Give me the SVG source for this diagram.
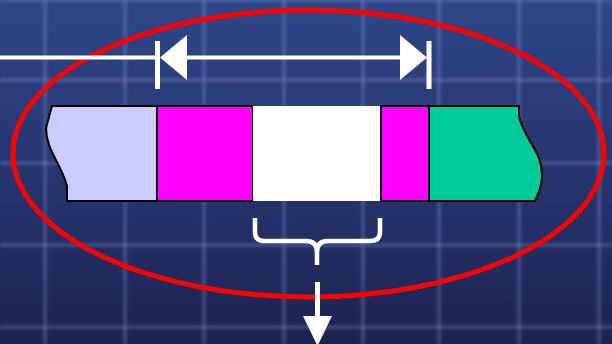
<svg xmlns="http://www.w3.org/2000/svg" width="612" height="344" viewBox="0 0 612 344">
<defs>
<linearGradient id="bg" x1="0" y1="0" x2="0" y2="1">
<stop offset="0" stop-color="#2f4687"/>
<stop offset="0.5" stop-color="#263570"/>
<stop offset="1" stop-color="#1d2250"/>
</linearGradient>
<filter id="blur" x="-0.1" y="-0.1" width="1.2" height="1.2"><feGaussianBlur stdDeviation="1.8"/></filter>
</defs>
<style>
.grid line{stroke:#8fa3e0;stroke-width:4;opacity:0.28}
.seg{stroke:#000;stroke-width:2}
.wht{stroke:#fff;fill:none}
</style>
<rect width="612" height="344" fill="url(#bg)"/>
<g class="grid" filter="url(#blur)">
<line x1="45" y1="0" x2="45" y2="344"/>
<line x1="125" y1="0" x2="125" y2="344"/>
<line x1="204" y1="0" x2="204" y2="344"/>
<line x1="284" y1="0" x2="284" y2="344"/>
<line x1="363" y1="0" x2="363" y2="344"/>
<line x1="439" y1="0" x2="439" y2="344"/>
<line x1="519" y1="0" x2="519" y2="344"/>
<line x1="599" y1="0" x2="599" y2="344"/>
<line x1="0" y1="0" x2="612" y2="0"/>
<line x1="0" y1="80" x2="612" y2="80"/>
<line x1="0" y1="163" x2="612" y2="163"/>
<line x1="0" y1="245" x2="612" y2="245"/>
<line x1="0" y1="327" x2="612" y2="327"/>
</g>
<g id="bar">
<path id="seg-lavender" class="seg" fill="#ccccff" d="M52,106 L157,106 L157,201 L67,201 L67,186 C62,165 46,150 46,128 Z"/>
<rect id="seg-magenta1" class="seg" fill="#ff00ff" x="157" y="106" width="96" height="95"/>
<rect id="seg-white" fill="#ffffff" x="253" y="106" width="128" height="95"/>
<rect id="seg-magenta2" class="seg" fill="#ff00ff" x="381" y="106" width="48" height="95"/>
<path id="seg-green" class="seg" fill="#00cc99" d="M429,106 L519,106 L519,116 C524,140 542,150 542,175 C542,188 538,194 535,201 L429,201 Z"/>
</g>
<g id="ellipse">
<ellipse cx="308.5" cy="153.5" rx="295.5" ry="143.5" fill="none" stroke="#ff0000" stroke-width="5"/>
</g>
<g id="connectors">
<line class="wht" x1="0" y1="57.5" x2="157" y2="57.5" stroke-width="4"/>
<line class="wht" x1="157.5" y1="41" x2="157.5" y2="89" stroke-width="5"/>
<line class="wht" x1="186" y1="57.5" x2="401" y2="57.5" stroke-width="4"/>
<line class="wht" x1="429" y1="41" x2="429" y2="89" stroke-width="5"/>
<polygon fill="#fff" points="160,57.5 187,35 187,80"/>
<polygon fill="#fff" points="427,57.5 400,35 400,80"/>
<path class="wht" stroke-width="4.5" d="M255,218 L255,232 Q255,241 264,241 L306,241 Q317,241 317,252 L317,265 M317,252 Q317,241 328,241 L370,241 Q380,241 380,232 L380,218"/>
<line class="wht" x1="317.5" y1="282" x2="317.5" y2="320" stroke-width="5"/>
<polygon fill="#fff" points="303,316 332,316 317.5,346"/>
</g>
</svg>
